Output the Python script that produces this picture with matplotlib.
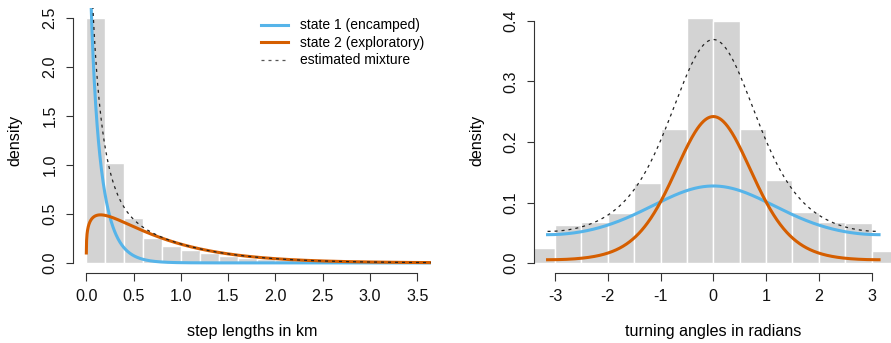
import math
import matplotlib
matplotlib.use("Agg")
import matplotlib.pyplot as plt
import numpy as np
from matplotlib.lines import Line2D

plt.rcParams['font.family'] = ['Liberation Sans', 'DejaVu Sans']
plt.rcParams['axes.unicode_minus'] = False

# histogram of step lengths (km), bin width 0.2
step_breaks = [0.0, 0.2, 0.4, 0.6, 0.8, 1.0, 1.2, 1.4, 1.6, 1.8, 2.0,
               2.2, 2.4, 2.6, 2.8, 3.0, 3.2, 3.4, 3.6]
step_density = [2.50, 1.02, 0.456, 0.255, 0.177, 0.128, 0.096, 0.075, 0.055,
                0.040, 0.030, 0.020, 0.013, 0.009, 0.006, 0.004, 0.003, 0.002]

# histogram of turning angles (radians), bin width 0.5
angle_breaks = [-3.5, -3.0, -2.5, -2.0, -1.5, -1.0, -0.5, 0.0,
                0.5, 1.0, 1.5, 2.0, 2.5, 3.0, 3.5]
angle_density = [0.024, 0.063, 0.067, 0.083, 0.132, 0.222, 0.405,
                 0.400, 0.222, 0.137, 0.085, 0.068, 0.066, 0.020]

# fitted state-dependent distributions
state_labels = ['state 1 (encamped)', 'state 2 (exploratory)']
state_colors = ['#56B4E9', '#D55E00']
state_weights = [0.516, 0.484]
gamma_shape = [0.75, 1.25]
gamma_scale = [0.15, 0.60]
vm_mean = [0.0, 0.0]
vm_kappa = [0.5, 1.9]

FS = 11.6       # axis text
FS_LEG = 10.0   # legend text


def dgamma(x, shape, scale):
    return x ** (shape - 1) * np.exp(-x / scale) / (math.gamma(shape) * scale ** shape)


def dvm(x, mu, kappa):
    return np.exp(kappa * np.cos(x - mu)) / (2 * np.pi * np.i0(kappa))


def r_axes(ax, xticks, yticks, xfmt, yfmt):
    for s in ['top', 'right']:
        ax.spines[s].set_visible(False)
    for s in ['left', 'bottom']:
        ax.spines[s].set_linewidth(0.8)
        ax.spines[s].set_color('#333333')
    ax.set_xticks(xticks)
    ax.set_yticks(yticks)
    ax.set_xticklabels([xfmt.format(t) for t in xticks])
    ax.set_yticklabels([yfmt.format(t) for t in yticks], rotation=90, va='center')
    ax.spines['bottom'].set_bounds(xticks[0], xticks[-1])
    ax.spines['left'].set_bounds(yticks[0], yticks[-1])
    ax.tick_params(direction='out', length=5.4, width=0.8, color='#333333',
                   labelsize=FS, pad=6.0, labelcolor='#111111')
    ax.set_facecolor('none')


W, H = 891, 343
fig = plt.figure(figsize=(W / 100, H / 100), dpi=100)


def px_axes(x0, x1, ytop, ybot):
    return fig.add_axes([x0 / W, (H - ybot) / H, (x1 - x0) / W, (ybot - ytop) / H])


lw_state = 2.2
dash = (2.4, 3.2)

# ---- step lengths ----
ax1 = px_axes(73.1, 430.5, 8.0, 272.7)
ax1.bar(step_breaks[:-1], step_density, width=np.diff(step_breaks), align='edge',
        color='#D3D3D3', edgecolor='white', linewidth=1.0)
xs = np.linspace(0.0001, 3.7, 1500)
mix = np.zeros_like(xs)
for i in range(2):
    d = state_weights[i] * dgamma(xs, gamma_shape[i], gamma_scale[i])
    mix += d
    ax1.plot(xs, d, color=state_colors[i], lw=lw_state, label=state_labels[i])
ax1.plot(xs, mix, color='#222222', lw=0.9, dashes=dash, label='estimated mixture')
ax1.set_xlim(-0.14, 3.64)
ax1.set_ylim(-0.1, 2.6)
r_axes(ax1, [0.0, 0.5, 1.0, 1.5, 2.0, 2.5, 3.0, 3.5], [0.0, 0.5, 1.0, 1.5, 2.0, 2.5],
       '{:.1f}', '{:.1f}')

handles = [Line2D([], [], color=state_colors[0], lw=lw_state),
           Line2D([], [], color=state_colors[1], lw=lw_state),
           Line2D([], [], color='#555555', lw=0.9, dashes=dash)]
fig.legend(handles, state_labels + ['estimated mixture'], loc='upper left',
           bbox_to_anchor=(261 / W, (H - 18.5) / H), frameon=False, fontsize=FS_LEG,
           handlelength=1.94, handletextpad=0.86, labelspacing=0.25,
           borderpad=0, borderaxespad=0)

fig.text(251.8 / W, (H - 331.5) / H, 'step lengths in km', ha='center', va='center',
         fontsize=FS)
fig.text(15 / W, (H - 140) / H, 'density', ha='center', va='center', rotation=90,
         fontsize=FS)

# ---- turning angles ----
ax2 = px_axes(534.3, 892.3, 11.3, 272.7)
ax2.bar(angle_breaks[:-1], angle_density, width=np.diff(angle_breaks), align='edge',
        color='#D3D3D3', edgecolor='white', linewidth=1.0)
ts = np.linspace(-np.pi, np.pi, 800)
mix2 = np.zeros_like(ts)
for i in range(2):
    d = state_weights[i] * dvm(ts, vm_mean[i], vm_kappa[i])
    mix2 += d
    ax2.plot(ts, d, color=state_colors[i], lw=lw_state)
ax2.plot(ts, mix2, color='#222222', lw=0.9, dashes=dash)
ax2.set_xlim(-np.pi * 1.08, np.pi * 1.08)
ax2.set_ylim(-0.016, 0.416)
r_axes(ax2, [-3, -2, -1, 0, 1, 2, 3], [0.0, 0.1, 0.2, 0.3, 0.4], '{:d}', '{:.1f}')

fig.text(713.3 / W, (H - 331.5) / H, 'turning angles in radians', ha='center',
         va='center', fontsize=FS)
fig.text(476.7 / W, (H - 140) / H, 'density', ha='center', va='center', rotation=90,
         fontsize=FS)

fig.savefig('out.png', dpi=100)
